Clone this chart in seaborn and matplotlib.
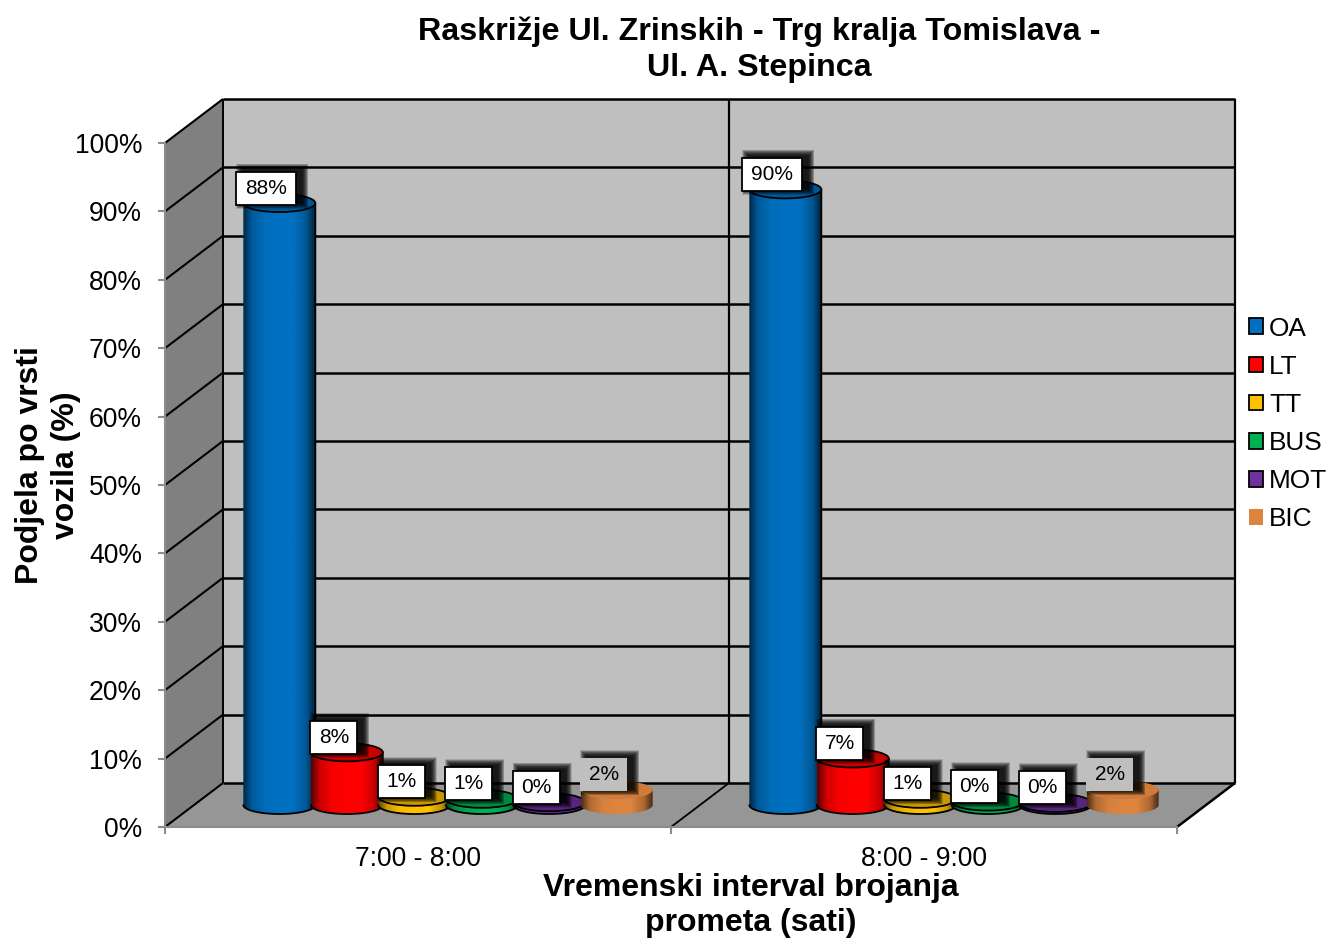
import numpy as np
import pandas as pd
import seaborn as sns
import matplotlib.pyplot as plt
from matplotlib.colors import LinearSegmentedColormap, to_rgb
from matplotlib.patches import Ellipse, Patch, PathPatch, Polygon, Rectangle
from matplotlib.path import Path

# podaci
intervals = ['7:00 - 8:00', '8:00 - 9:00']
vehicles = ['OA', 'LT', 'TT', 'BUS', 'MOT', 'BIC']
heights_1 = [88.0, 7.7, 1.2, 0.9, 0.4, 2.2]
heights_2 = [90.0, 6.8, 0.9, 0.5, 0.3, 2.2]
labels_1 = ['88%', '8%', '1%', '1%', '0%', '2%']
labels_2 = ['90%', '7%', '1%', '0%', '0%', '2%']
colors = ['#0070C0', '#FF0000', '#FFC000', '#00B050', '#7030A0', '#DD843F']
y_ticks = [0, 10, 20, 30, 40, 50, 60, 70, 80, 90, 100]

W, H = 1329, 938
sns.set_theme(style='white')
plt.rcParams['font.family'] = ['Liberation Sans', 'DejaVu Sans']
plt.rcParams['text.color'] = 'black'

df = pd.DataFrame({
    'interval': np.repeat(intervals, len(vehicles)),
    'vozilo': vehicles * 2,
    'udio': heights_1 + heights_2,
})

fig = plt.figure(figsize=(W / 100, H / 100), dpi=100)


def px_axes(x0, x1, ytop, ybot, **kw):
    return fig.add_axes([x0 / W, 1 - ybot / H, (x1 - x0) / W, (ybot - ytop) / H], **kw)


# prednja ravnina (osi) i pomaknuta ravnina za stupce
ax = px_axes(165, 1177, 143, 827)
ax_bar = px_axes(195, 1207, 121, 805)
ax_bar.patch.set_alpha(0)
for a in (ax, ax_bar):
    a.set_xlim(-0.5, 1.5)
    a.set_ylim(0, 100)

PX = 2 / 1012       # jedan piksel u x jedinicama
PY = 100 / 684      # jedan piksel u y jedinicama
DX, DY = 58 * PX, 44 * PY
x_l, x_r = -0.5, 1.5

# zidovi
ax.add_patch(Polygon([(x_l, 0), (x_l + DX, DY), (x_l + DX, 100 + DY), (x_l, 100)],
                     fc='#808080', ec='none', clip_on=False, zorder=1))
ax.add_patch(Rectangle((x_l + DX, DY), x_r - x_l, 100, fc='#BFBFBF', ec='none',
                       clip_on=False, zorder=1))
ax.add_patch(Polygon([(x_l, 0), (x_r, 0), (x_r + DX, DY), (x_l + DX, DY)],
                     fc='#969696', ec='none', clip_on=False, zorder=1))

line_kw = dict(color='black', clip_on=False, zorder=2, solid_capstyle='butt')
for t in y_ticks:
    ax.plot([x_l, x_l + DX], [t, t + DY], lw=1.5, **line_kw)
    ax.plot([x_l + DX, x_r + DX], [t + DY, t + DY], lw=1.8, **line_kw)
ax.plot([x_l + DX, x_l + DX], [DY, 100 + DY], lw=1.4, **line_kw)
ax.plot([0.5 + DX, 0.5 + DX], [DY, 100 + DY], lw=1.6, **line_kw)
ax.plot([x_r + DX, x_r + DX], [DY, 100 + DY], lw=1.6, **line_kw)
ax.plot([0.5, 0.5 + DX], [0, DY], lw=1.3, **line_kw)
ax.plot([x_r, x_r + DX], [0, DY], lw=1.8, **line_kw)

# stupci
sns.barplot(data=df, x='interval', y='udio', hue='vozilo', hue_order=vehicles,
            order=intervals, palette=colors, saturation=1, width=0.8, legend=False,
            ax=ax_bar, zorder=3)
ax_bar.set_xlim(-0.5, 1.5)
ax_bar.set_ylim(0, 100)
ax_bar.axis('off')

RY = 9 * PY
text_rows = [labels_1, labels_2]
label_jobs = []
order = 10
for g in range(2):
    for v, cont in enumerate(ax_bar.containers):
        bar = cont[g]
        h = bar.get_height()
        cx = bar.get_x() + bar.get_width() / 2
        rx = 36 * PX
        col = np.array(to_rgb(colors[v]))
        is_bic = vehicles[v] == 'BIC'
        edge = 'none' if is_bic else 'black'

        cmap = LinearSegmentedColormap.from_list('c', [
            (0.0, col * 0.35), (0.12, col * 0.8), (0.3, col * 0.97), (0.5, col), (0.7, col),
            (0.88, col * 0.78), (1.0, col * 0.32)])
        th = np.linspace(np.pi, 2 * np.pi, 40)
        xs = np.r_[cx + rx * np.cos(th), cx + rx, cx - rx]
        ys = np.r_[RY * np.sin(th), h, h]
        outline = PathPatch(Path(np.c_[xs, ys]), fc='none', ec='none', zorder=order, clip_on=False)
        ax_bar.add_patch(outline)
        im = ax_bar.imshow(np.linspace(0, 1, 128)[None, :], cmap=cmap, aspect='auto',
                           extent=[cx - rx, cx + rx, -RY, h], zorder=order)
        im.set_clip_box(fig.bbox)
        im.set_clip_path(outline)
        if not is_bic:
            ax_bar.plot(xs[:-1], ys[:-1], color='black', lw=1.3, zorder=order + 0.1, clip_on=False)
        top_col = col * (0.93 if is_bic else 0.78)
        ax_bar.add_patch(Ellipse((cx, h), 2 * rx, 2 * RY, fc=top_col, ec=edge, lw=1.3,
                                 zorder=order + 0.2, clip_on=False))
        order += 1
        label_jobs.append((cx, h, text_rows[g][v], vehicles[v]))

ax_bar.set_xlim(-0.5, 1.5)
ax_bar.set_ylim(0, 100)

# oznake podataka sa sjenom
for cx, h, txt, name in label_jobs:
    bw = 60 if len(txt) == 3 else 47
    bh = 33
    lx = cx - 13 * PX
    ly = h + 15 * PY
    x0, y0 = lx - bw / 2 * PX, ly - bh / 2 * PY
    for k in np.arange(6, -0.5, -0.5):
        ax_bar.add_patch(Rectangle((x0 + (6 - k) * PX, y0 + (2 - k) * PY),
                                   (bw + 2 * k) * PX, (bh + 2 * k) * PY,
                                   fc='black', ec='none', alpha=0.14, zorder=order,
                                   clip_on=False))
    if name == 'BIC':
        ax_bar.add_patch(Rectangle((x0, y0), bw * PX, bh * PY, fc='#BFBFBF', ec='none',
                                   zorder=order + 0.1, clip_on=False))
    else:
        ax_bar.add_patch(Rectangle((x0, y0), bw * PX, bh * PY, fc='white', ec='black', lw=1.3,
                                   zorder=order + 0.1, clip_on=False))
    ax_bar.text(lx, ly, txt, ha='center', va='center', fontsize=15, color='black',
                zorder=order + 0.2)
    order += 1

# osi
ax.set_facecolor('none')
for s in ('top', 'right'):
    ax.spines[s].set_visible(False)
for s in ('left', 'bottom'):
    ax.spines[s].set_color('#8C8C8C')
    ax.spines[s].set_linewidth(1.5)
    ax.spines[s].set_zorder(2.5)
ax.set_yticks(y_ticks)
ax.set_yticklabels([f'{t}%' for t in y_ticks], fontsize=19.1, color='black')
ax.tick_params(axis='y', which='major', left=True, length=5, width=1.5, color='#8C8C8C', pad=11.5)
ax.set_xticks([0, 1])
ax.set_xticklabels(intervals, fontsize=19.1, color='black')
ax.set_xticks([-0.5, 0.5, 1.5], minor=True)
ax.tick_params(axis='x', which='major', bottom=False, length=0, pad=14)
ax.tick_params(axis='x', which='minor', bottom=True, length=5, width=1.5, color='#8C8C8C')
ax.set_xlabel('')
ax.set_ylabel('')

# naslovi
fig.text(759 / W, 1 - 49.5 / H, 'Raskrižje Ul. Zrinskih - Trg kralja Tomislava -\nUl. A. Stepinca',
         ha='center', va='center', fontsize=23.2, fontweight='bold', linespacing=1.24, color='black')
fig.text(751 / W, 1 - 905.5 / H, 'Vremenski interval brojanja\nprometa (sati)',
         ha='center', va='center', fontsize=23, fontweight='bold', linespacing=1.24, color='black')
fig.text(48 / W, 1 - 465 / H, 'Podjela po vrsti\nvozila (%)', rotation=90,
         ha='center', va='center', fontsize=23, fontweight='bold', linespacing=1.24, color='black')

# legenda
handles = [Patch(fc=c, ec='none' if n == 'BIC' else 'black', lw=1.3) for c, n in zip(colors, vehicles)]
fig.legend(handles, vehicles, loc='center left', bbox_to_anchor=(1249 / W, 1 - 424 / H),
           frameon=False, fontsize=18.9, handlelength=0.54, handleheight=0.54,
           handletextpad=0.23, labelspacing=0.54, borderpad=0, borderaxespad=0,
           labelcolor='black')

fig.savefig('out.png', dpi=100, facecolor='white')
